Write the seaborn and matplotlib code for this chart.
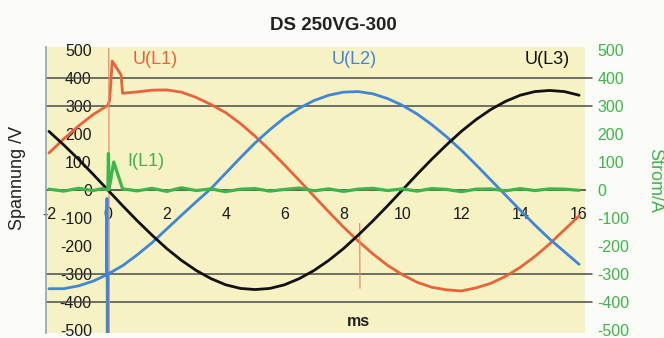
import numpy as np
import pandas as pd
import seaborn as sns
import matplotlib.pyplot as plt

# time axis in ms, voltages in V, current in A
t_ms = [-2, -1.5, -1, -0.5, 0, 0.5, 1, 1.5, 2, 2.5, 3, 3.5, 4, 4.5, 5, 5.5, 6, 6.5,
        7, 7.5, 8, 8.5, 9, 9.5, 10, 10.5, 11, 11.5, 12, 12.5, 13, 13.5, 14, 14.5,
        15, 15.5, 16]

# U(L1) with the switching bump just after 0 ms
u1_t = [-2, -1.5, -1, -0.5, 0, 0.06, 0.15, 0.45, 0.5, 1, 1.5, 2, 2.5, 3,
        3.5, 4, 4.5, 5, 5.5, 6, 6.5, 7, 7.5, 8, 8.5, 9, 9.5,
        10, 10.5, 11, 11.5, 12, 12.5, 13, 13.5, 14, 14.5, 15, 15.5, 16]
u1 = [132, 182, 228, 269, 302, 320, 460, 410, 345, 350, 356, 357, 349, 330,
      305, 276, 237, 192, 142, 89, 34, -22, -78, -132, -182, -228, -269,
      -302, -329, -347, -356, -360, -349, -333, -308, -276, -237, -192,
      -142, -92]

# thin transient flashes of U(L1)
u1_flash_t = [0.03, 0.05, 8.55, 8.56]
u1_flash = [505, -510, -120, -350]
u1_flash_id = ["a", "a", "b", "b"]

u2_t = [-2, -1.5, -1, -0.5, -0.05, -0.03, -0.02, 0, 0.5, 1, 1.5, 2, 2.5, 3, 3.5, 4,
        4.5, 5, 5.5, 6, 6.5, 7, 7.5, 8, 8.5, 9, 9.5, 10, 10.5, 11, 11.5, 12, 12.5,
        13, 13.5, 14, 14.5, 15, 15.5, 16]
u2 = [-352, -352, -342, -325, -303, -30, -510, -300, -270, -231, -188, -139, -90, -42,
      5, 60, 115, 168, 215, 258, 292, 319, 338, 349, 351, 343, 326, 302, 271, 233, 190,
      142, 90, 36, -18, -72, -125, -175, -220, -265]

u3 = [209, 161, 110, 56, 0, -56, -110, -161, -209, -251, -287, -316, -338, -351, -355,
      -351, -338, -316, -287, -251, -209, -161, -110, -56, 0, 56, 110, 161, 209, 251,
      287, 316, 338, 351, 355, 351, 338]

i1_t = [-2, -1.5, -1, -0.5, -0.2, 0, 0.02, 0.04, 0.2, 0.5, 1, 1.5, 2, 2.5, 3, 3.5,
        4, 4.5, 5, 5.5, 6, 6.5, 7, 7.5, 8, 8.5, 9, 9.5, 10, 10.5, 11, 11.5, 12, 12.5,
        13, 13.5, 14, 14.5, 15, 15.5, 16]
i1 = [3, -4, 6, -2, 5, 0, 130, 2, 100, 4, -3, 6, -5, 8, -2, 4, -6, 3, 5, -4, 2, 7,
      -3, 4, -5, 3, 6, -2, 4, -4, 5, 2, -6, 3, 4, -3, 5, -2, 4, 3, -1]

y_ticks = [500, 400, 300, 200, 100, 0, -100, -200, -300, -400, -500]
x_ticks = [-2, 0, 2, 4, 6, 8, 10, 12, 14, 16]
ref_lines = [400, 300, -300, -400]

c_u1 = "#e8623a"
c_u2 = "#3f86d8"
c_u3 = "#111111"
c_i1 = "#3db54a"

sns.set_theme(style="white")
plt.rcParams["font.family"] = ["Liberation Sans", "DejaVu Sans"]
plt.rcParams["axes.unicode_minus"] = False

fig = plt.figure(figsize=(6.64, 3.38), dpi=100, facecolor="#fbfbf7")
ax = fig.add_axes([46 / 664, 5 / 338, 539 / 664, 286 / 338])
ax.set_facecolor("#f6f2c4")

for v in ref_lines:
    ax.axhline(v, xmin=0, xmax=1.013, color="#4a4a4a", lw=1.1, clip_on=False, zorder=1)

sns.lineplot(x=u1_t, y=u1, ax=ax, color=c_u1, lw=2, sort=False, estimator=None, zorder=3)
flash = pd.DataFrame({"t": u1_flash_t, "u": u1_flash, "id": u1_flash_id})
sns.lineplot(data=flash, x="t", y="u", units="id", ax=ax, color="#ea8a6a", lw=0.9,
             sort=False, estimator=None, zorder=3)
sns.lineplot(x=u2_t, y=u2, ax=ax, color=c_u2, lw=2, sort=False, estimator=None, zorder=3)
sns.lineplot(x=t_ms, y=u3, ax=ax, color=c_u3, lw=2, sort=False, estimator=None, zorder=4)
sns.lineplot(x=i1_t, y=i1, ax=ax, color=c_i1, lw=2.3, sort=False, estimator=None, zorder=5)

ax.set_xlim(-2.1, 16.2)
ax.set_ylim(-510, 510)

# x axis runs through zero
for s in ["top", "right"]:
    ax.spines[s].set_visible(False)
ax.spines["bottom"].set_position(("data", 0))
ax.spines["bottom"].set_color("#4a4a4a")
ax.spines["bottom"].set_zorder(2)
ax.spines["left"].set_color("#8fa9c4")
ax.set_xticks(x_ticks)
ax.set_xticklabels([str(v) for v in x_ticks])
ax.tick_params(axis="x", direction="in", length=4, color="#4a4a4a", pad=12,
               labelsize=11.5, labelcolor="#1a1a1a")
ax.set_yticks(y_ticks)
ax.tick_params(axis="y", length=0, pad=-33, labelsize=11.5, labelcolor="#1a1a1a")
ax.set_xlabel("")
ax.set_ylabel("")

ax2 = ax.twinx()
ax2.set_ylim(-510, 510)
ax2.set_yticks(y_ticks)
for s in ["top", "right", "left", "bottom"]:
    ax2.spines[s].set_visible(False)
ax2.tick_params(axis="y", length=0, pad=9, labelsize=11.5, labelcolor=c_i1)

ax.text(1.6, 467, "U(L1)", color=c_u1, fontsize=13, ha="center", va="center")
ax.text(8.35, 467, "U(L2)", color=c_u2, fontsize=13, ha="center", va="center")
ax.text(14.9, 467, "U(L3)", color=c_u3, fontsize=13, ha="center", va="center")
ax.text(1.3, 100, "I(L1)", color=c_i1, fontsize=13, ha="center", va="center")

fig.text(333 / 664, 1 - 25 / 338, "DS 250VG-300", ha="center", va="center",
         fontsize=13.5, fontweight="bold", color="#222222")
fig.text(358 / 664, 1 - 321 / 338, "ms", ha="center", va="center",
         fontsize=11.5, fontweight="bold", color="#222222")
fig.text(18 / 664, 1 - 178 / 338, "Spannung /V", rotation=90, ha="center",
         va="center", fontsize=13, color="#222222")
fig.text(655 / 664, 1 - 180 / 338, "Strom/A", rotation=270, ha="center",
         va="center", fontsize=13, color=c_i1)

fig.savefig("out.png", dpi=100, facecolor=fig.get_facecolor())
